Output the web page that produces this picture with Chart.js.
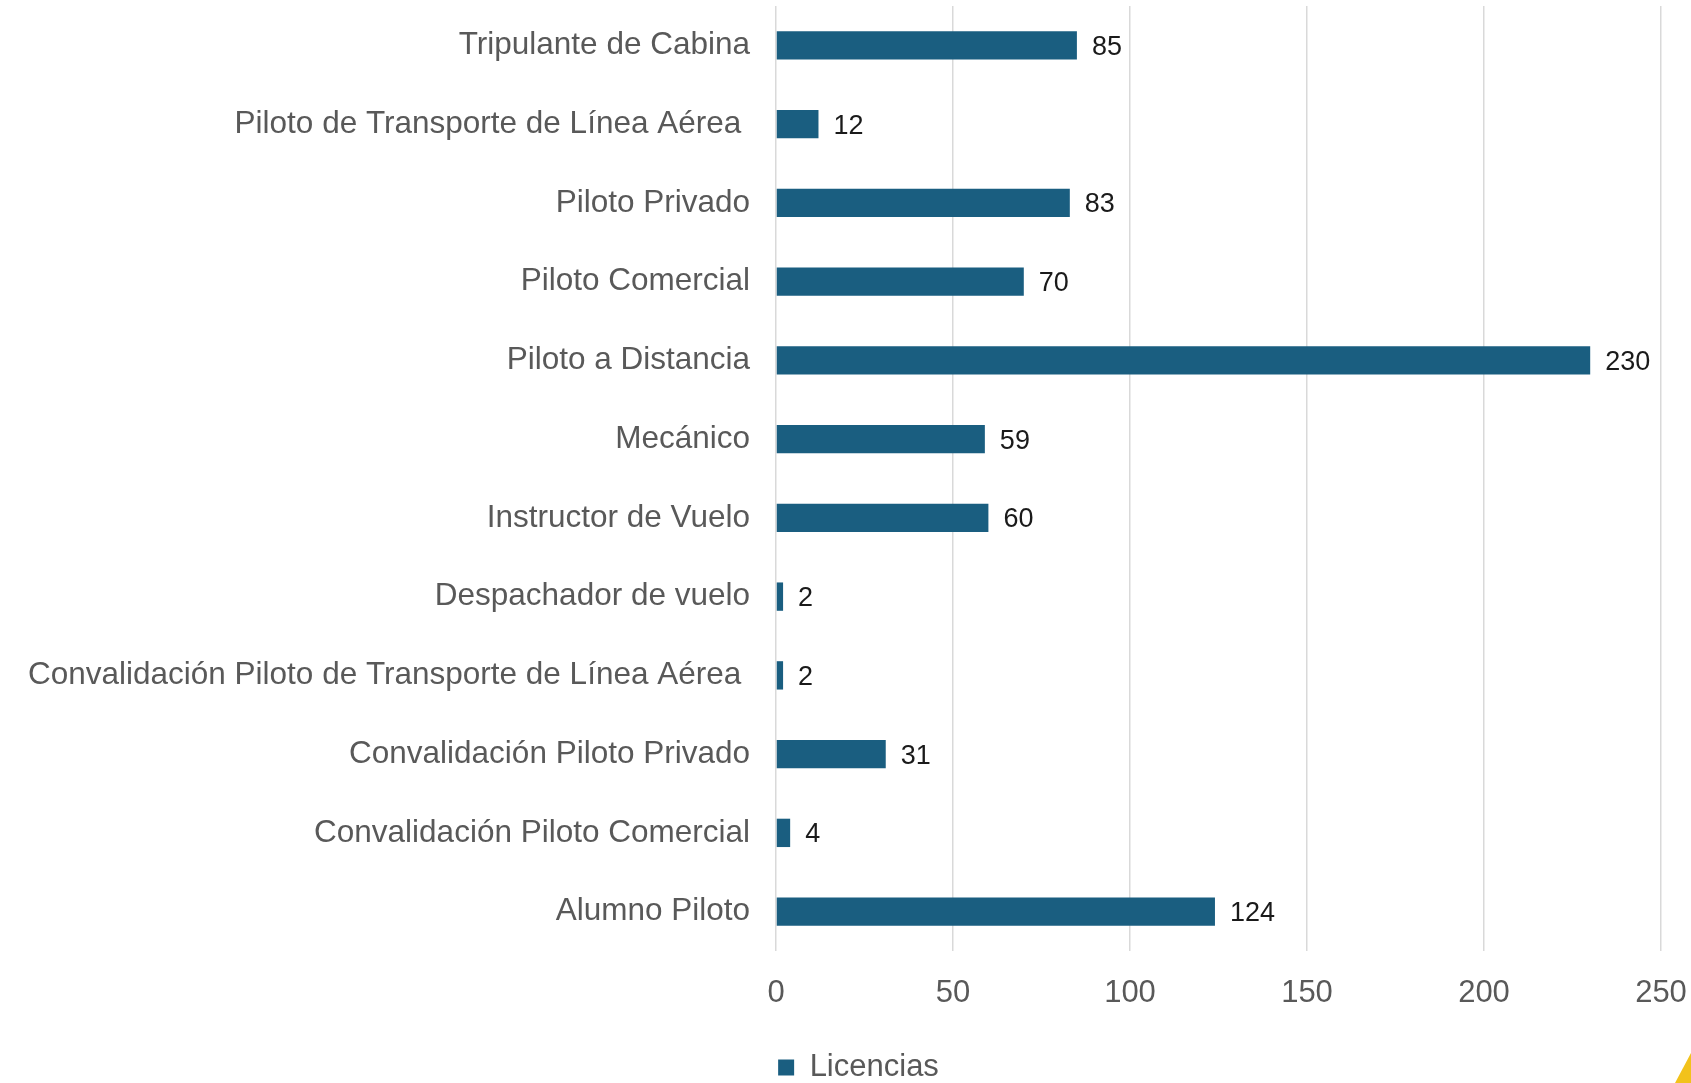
<!DOCTYPE html>
<html>
<head>
<meta charset="utf-8">
<script src="https://cdn.jsdelivr.net/npm/chart.js@4"></script>
<style>
    html, body { margin: 0; padding: 0; background: #ffffff; }
    #wrap { position: relative; width: 1691px; height: 1083px; overflow: hidden; }
    #corner {
        position: absolute; right: 0; bottom: 0; width: 16px; height: 30px;
        background: #f2c21b; clip-path: polygon(100% 0, 100% 100%, 0 100%);
    }
</style>
</head>
<body>
<div id="wrap">
    <canvas id="chartLicencias" width="1691" height="1083"></canvas>
    <div id="corner"></div>
</div>
<script>
(function () {
    'use strict';

    // =================== Datos ===================

    const categorias = [
        'Tripulante de Cabina',
        'Piloto de Transporte de Línea Aérea ',
        'Piloto Privado',
        'Piloto Comercial',
        'Piloto a Distancia',
        'Mecánico',
        'Instructor de Vuelo',
        'Despachador de vuelo',
        'Convalidación Piloto de Transporte de Línea Aérea ',
        'Convalidación Piloto Privado',
        'Convalidación Piloto Comercial',
        'Alumno Piloto'
    ];

    const licencias = [85, 12, 83, 70, 230, 59, 60, 2, 2, 31, 4, 124];

    const ticksX = [0, 50, 100, 150, 200, 250];

    // =================== Estilos ===================

    const FONT = "'Liberation Sans', Arial, sans-serif";
    const GRIS = '#595959';
    const AZUL = '#1a5e80';

    // etiquetas con el valor al final de cada barra
    const valorLabels = {
        id: 'valorLabels',
        afterDatasetsDraw(chart) {
            const ctx = chart.ctx;
            const meta = chart.getDatasetMeta(0);
            ctx.save();
            ctx.font = '27px ' + FONT;
            ctx.fillStyle = '#1a1a1a';
            ctx.textAlign = 'left';
            ctx.textBaseline = 'middle';
            meta.data.forEach(function (bar, i) {
                ctx.fillText(String(licencias[i]), bar.x + 15, bar.y + 2);
            });
            ctx.restore();
        }
    };

    // la leyenda del original está centrada un poco más a la derecha
    const legendShift = {
        id: 'legendShift',
        afterLayout(chart) {
            if (chart.legend) {
                chart.legend.left += 40;
            }
        }
    };

    const ctx = document.getElementById('chartLicencias').getContext('2d');

    new Chart(ctx, {
        type: 'bar',
        data: {
            labels: categorias,
            datasets: [{
                label: 'Licencias',
                data: licencias,
                backgroundColor: AZUL,
                borderWidth: 0,
                barPercentage: 0.36,
                categoryPercentage: 1
            }]
        },
        options: {
            indexAxis: 'y',
            responsive: false,
            animation: false,
            layout: {
                // el legend queda pegado al borde inferior como en el original
                padding: { top: 6, left: 16, right: 30, bottom: -10 }
            },
            plugins: {
                legend: {
                    position: 'bottom',
                    labels: {
                        boxWidth: 16,
                        boxHeight: 16,
                        padding: 0,
                        color: GRIS,
                        font: { family: FONT, size: 31 }
                    }
                },
                tooltip: { enabled: false }
            },
            scales: {
                x: {
                    min: 0,
                    max: 250,
                    afterBuildTicks: function (scale) {
                        scale.ticks = ticksX.map(v => ({ value: v }));
                    },
                    afterFit: function (scale) {
                        scale.height = 101;
                        scale.paddingLeft = 0;
                        scale.paddingRight = 0;
                    },
                    grid: {
                        color: '#d9d9d9',
                        lineWidth: 1.5,
                        drawTicks: false
                    },
                    border: { display: false },
                    ticks: {
                        padding: 24,
                        color: GRIS,
                        font: { family: FONT, size: 31 }
                    }
                },
                y: {
                    afterFit: function (scale) {
                        scale.width = 760;
                        scale.paddingTop = 0;
                        scale.paddingBottom = 0;
                    },
                    grid: { display: false, drawTicks: false },
                    border: { display: false },
                    ticks: {
                        padding: 26,
                        autoSkip: false,
                        color: GRIS,
                        font: { family: FONT, size: 31.5 }
                    }
                }
            }
        },
        plugins: [valorLabels, legendShift]
    });
})();
</script>
</body>
</html>
